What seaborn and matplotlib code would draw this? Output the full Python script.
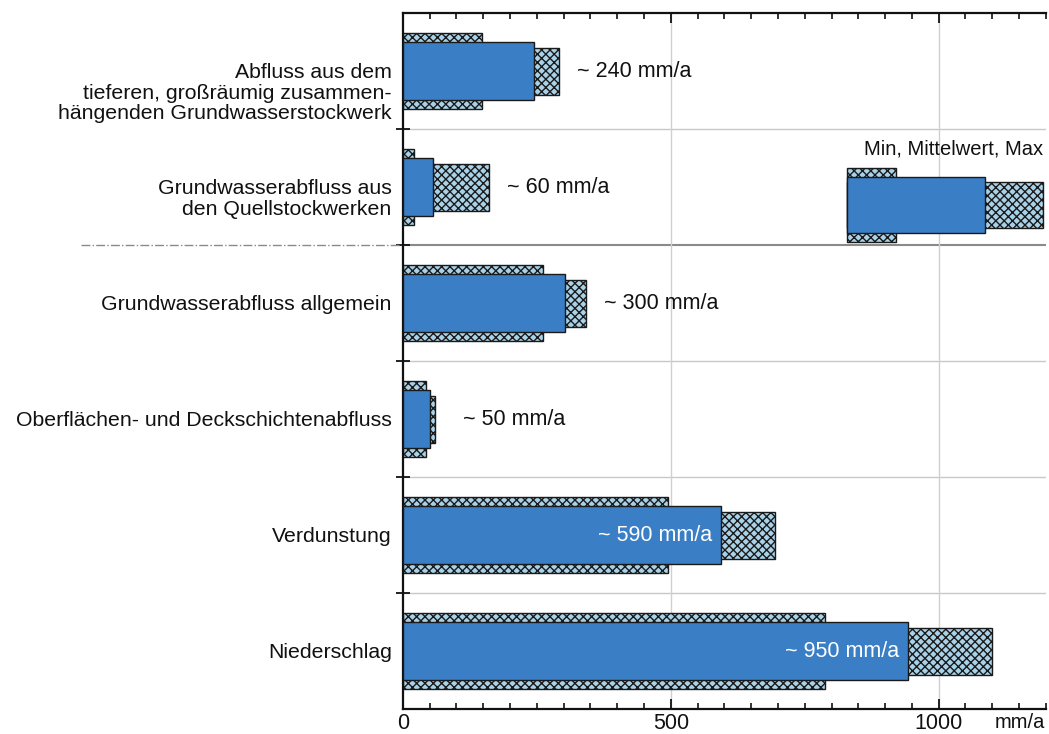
import numpy as np
import pandas as pd
import seaborn as sns
import matplotlib.pyplot as plt
from matplotlib.ticker import MultipleLocator, FixedLocator

# Daten (mm/a), von oben nach unten
kategorien = [
    "Abfluss aus dem\ntieferen, großräumig zusammen-\nhängenden Grundwasserstockwerk",
    "Grundwasserabfluss aus\nden Quellstockwerken",
    "Grundwasserabfluss allgemein",
    "Oberflächen- und Deckschichtenabfluss",
    "Verdunstung",
    "Niederschlag",
]
minimum = [147, 20, 261, 43, 494, 787]
mittelwert = [244, 56, 302, 50, 593, 942]
maximum = [291, 160, 341, 60, 694, 1100]
beschriftung = ["~ 240 mm/a", "~ 60 mm/a", "~ 300 mm/a", "~ 50 mm/a", "~ 590 mm/a", "~ 950 mm/a"]
innen = [False, False, False, False, True, True]

# Legende (Min, Mittelwert, Max) im Feld der Quellstockwerke
leg_start = 828
leg_werte = [921, 1086, 1194]

blau = "#3a7ec6"
schraff = "#a9d2e8"
rand = "#1a1a1a"

sns.set_theme(style="white")
plt.rcParams["font.family"] = ["Liberation Sans", "DejaVu Sans"]
plt.rcParams["hatch.linewidth"] = 1.0

df = pd.DataFrame({"kat": kategorien, "min": minimum, "mittel": mittelwert, "max": maximum})

fig = plt.figure(figsize=(10.49, 7.34), dpi=100)
ax = fig.add_axes([0.384, 0.034, 0.613, 0.948])

kw = dict(orient="h", errorbar=None, saturation=1, edgecolor=rand, linewidth=1.0, ax=ax)
sns.barplot(data=df, x="min", y="kat", width=0.655, color=schraff, hatch="xxxx", zorder=2, **kw)
sns.barplot(data=df, x="max", y="kat", width=0.405, color=schraff, hatch="xxxx", zorder=2, **kw)
sns.barplot(data=df, x="mittel", y="kat", width=0.5, color=blau, zorder=3, **kw)

# Legende als Balken
ly = 1.155
ax.barh(ly, leg_werte[0] - leg_start, left=leg_start, height=0.64, color=schraff,
        hatch="xxxx", edgecolor=rand, linewidth=1.0, zorder=2)
ax.barh(ly, leg_werte[2] - leg_start, left=leg_start, height=0.40, color=schraff,
        hatch="xxxx", edgecolor=rand, linewidth=1.0, zorder=2)
ax.barh(ly, leg_werte[1] - leg_start, left=leg_start, height=0.48, color=blau,
        edgecolor=rand, linewidth=1.0, zorder=3)
ax.text(1194, 0.67, "Min, Mittelwert, Max", ha="right", va="center", fontsize=14.5, color="#111111")

# Beschriftungen
for i, (txt, inn) in enumerate(zip(beschriftung, innen)):
    if inn:
        ax.text(mittelwert[i] - 16, i, txt, ha="right", va="center", fontsize=15.5, color="white", zorder=5)
    else:
        dx = 52 if maximum[i] < 100 else 34
        ax.text(maximum[i] + dx, i, txt, ha="left", va="center", fontsize=15.5, color="#111111")

ax.set_xlim(0, 1200)
ax.set_ylim(5.5, -0.5)
ax.set_xlabel("")
ax.set_ylabel("")

# Gitterlinien
for g in [0.5, 2.5, 3.5, 4.5]:
    ax.axhline(g, color="#c8c8c8", lw=1, zorder=0)
ax.axhline(1.5, color="#8a8a8a", lw=1.5, zorder=0)
ax.plot([-600, 0], [1.5, 1.5], color="#8a8a8a", lw=1, ls="-.", clip_on=False)
for g in [500, 1000]:
    ax.axvline(g, color="#d0d0d0", lw=1, zorder=0)

# Achsen
for s in ["left", "top", "bottom"]:
    ax.spines[s].set_color("#111111")
    ax.spines[s].set_linewidth(1.6)
ax.spines["right"].set_visible(False)

ax.xaxis.set_major_locator(FixedLocator([0, 500, 1000]))
ax.xaxis.set_minor_locator(MultipleLocator(50))
ax.tick_params(axis="x", which="major", direction="in", length=7, width=1.3, top=True, bottom=True,
               labelsize=15.5, pad=3, colors="#111111")
ax.tick_params(axis="x", which="minor", direction="in", length=4, width=1.2, top=True, bottom=True,
               colors="#111111")
ax.annotate("mm/a", xy=(1151, 5.5), xytext=(0, -3), textcoords="offset points",
            ha="center", va="top", fontsize=14.5, color="#111111", annotation_clip=False)

# Kategorienbeschriftung: erste Zeile auf Hoehe der Balkenmitte
ax.set_yticks(range(len(kategorien)))
ax.set_yticklabels([])
for i, kat in enumerate(kategorien):
    ax.annotate(kat, xy=(0, i), xytext=(-8, 6), textcoords="offset points",
                ha="right", va="top", fontsize=15.3, linespacing=1.12,
                color="#111111", annotation_clip=False)
ax.yaxis.set_minor_locator(FixedLocator([0.5, 1.5, 2.5, 3.5, 4.5]))
ax.tick_params(axis="y", which="major", length=0, colors="#111111")
ax.tick_params(axis="y", which="minor", direction="inout", length=10, width=1.3, left=True,
               colors="#111111")

fig.savefig("out.png", dpi=100)
